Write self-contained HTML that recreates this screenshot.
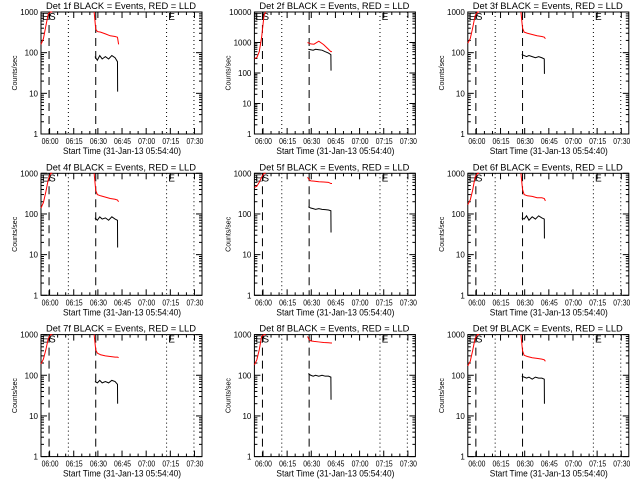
<!DOCTYPE html>
<html><head><meta charset="utf-8"><style>
html,body{margin:0;padding:0;background:#fff}
svg{display:block;font-family:"Liberation Sans",sans-serif}
</style></head><body>
<svg id="chart" width="640" height="480" viewBox="0 0 640 480"></svg>
<script>
// time axis (minutes since 05:54:40)
const xTickLabels = ["06:00","06:15","06:30","06:45","07:00","07:15","07:30"];
const xTickMinutes = [5.33,20.33,35.33,50.33,65.33,80.33,95.33];
const dashedTimes = [5,34];
const dottedTimes = [17,78,95];
const panelTitles = ["Det 1f","Det 2f","Det 3f","Det 4f","Det 5f","Det 6f","Det 7f","Det 8f","Det 9f"];
const panelMaxDecade = [3,4,3,3,3,3,3,3,3];
// red (LLD) series: segment1 then segment2
const redT1 = [0,1.5,3,4.5,6,7];
const redV1 = [[160,220,450,900,1000,1000],[300,320,500,1500,8000,10000],[170,220,400,800,1000,1000],[140,190,350,700,1000,1000],[450,480,600,800,1000,1000],[170,220,380,800,1000,1000],[190,250,420,800,1000,1000],[180,240,420,900,1000,1000],[170,220,400,800,1000,1000]];
const redT2 = [33,34,35,37,40,43,46,47.5,48.2];
const redV2 = [[1000,380,330,320,290,260,250,240,160],[1000,950,900,880,1100,850,600,500,500],[1000,400,320,300,280,260,250,240,220],[1000,380,300,280,260,240,230,220,200],[800,700,650,640,620,610,600,560,560],[1000,400,300,280,270,250,250,240,210],[1000,420,350,320,300,290,280,280,270],[900,750,700,680,660,640,630,620,620],[1000,400,310,290,270,260,250,240,220]];
const blkT = [33.5,35,36.5,38,40,42,44,46,47.5,47.6];
const blkV = [[80,65,85,70,80,70,85,75,60,11],[600,580,560,600,580,560,500,450,400,120],[90,85,80,85,80,75,80,75,70,30],[80,70,85,75,80,70,85,75,70,15],[150,140,135,130,135,130,128,125,120,35],[80,75,90,70,85,75,90,80,75,25],[70,65,75,65,70,65,75,70,60,20],[110,100,95,100,95,100,95,95,90,25],[95,90,85,90,80,90,85,85,80,20]];

const svg = document.getElementById('chart');
const NS = 'http://www.w3.org/2000/svg';
function mk(tag, attrs, parent){const e=document.createElementNS(NS,tag);for(const k in attrs)e.setAttribute(k,attrs[k]);parent.appendChild(e);return e;}

panelTitles.forEach((title,i)=>{
  const c=i%3, r=Math.floor(i/3);
  const ox=c*213.4, oy=r*161.3;
  const L=ox+41, R=ox+202, T=oy+12, B=oy+134;
  const maxD=panelMaxDecade[i];
  const xs=t=>L+(R-L)*t/100;
  const ys=v=>B-(B-T)*Math.log10(Math.max(1,Math.min(v,Math.pow(10,maxD))))/maxD;
  const g=mk('g',{},svg);
  
  
  const tt=mk('text',{x:L+5,y:oy+9,'font-size':'9',textLength:'150',lengthAdjust:'spacingAndGlyphs'},g);
  tt.textContent=title+" BLACK = Events, RED = LLD";
  
  
  const box=mk('rect',{x:L,y:T,width:R-L,height:B-T,fill:'none',stroke:'#000','stroke-width':1},g);
  
  
  for(let d=0;d<=maxD;d++){
    const y=B-(B-T)*d/maxD;
    mk('line',{x1:L,x2:L+6,y1:y,y2:y,stroke:'#000'},g);
    mk('line',{x1:R,x2:R-6,y1:y,y2:y,stroke:'#000'},g);
    const lb=mk('text',{x:L-3,y:y+3,'text-anchor':'end','font-size':'8'},g);
    lb.textContent=String(Math.pow(10,d));
    
    
    if(d<maxD){for(let m=2;m<10;m++){const yy=B-(B-T)*(d+Math.log10(m))/maxD;
      mk('line',{x1:L,x2:L+3,y1:yy,y2:yy,stroke:'#000'},g);
      mk('line',{x1:R,x2:R-3,y1:yy,y2:yy,stroke:'#000'},g);}}
  }
  const yl=mk('text',{x:ox+14,y:(T+B)/2+3,'font-size':'7','text-anchor':'middle',transform:`rotate(-90 ${ox+14} ${(T+B)/2})`},g);
  yl.textContent="Counts/sec";
  
  
  xTickMinutes.forEach((t,k)=>{
    const x=xs(t);
    mk('line',{x1:x,x2:x,y1:B,y2:B-6,stroke:'#000'},g);
    mk('line',{x1:x,x2:x,y1:T,y2:T+6,stroke:'#000'},g);
    for(let m=1;m<3;m++){const xm=xs(t+5*m);if(xm<R){mk('line',{x1:xm,x2:xm,y1:B,y2:B-3,stroke:'#000'},g);mk('line',{x1:xm,x2:xm,y1:T,y2:T+3,stroke:'#000'},g);}}
    const lb=mk('text',{x:x-8,y:B+10,'font-size':'8',textLength:'17',lengthAdjust:'spacingAndGlyphs'},g);
    lb.textContent=xTickLabels[k];
    
    
  });
  const xl=mk('text',{x:L+22,y:B+20,'font-size':'9',textLength:'118',lengthAdjust:'spacingAndGlyphs'},g);
  xl.textContent="Start Time (31-Jan-13 05:54:40)";
  
  
  dashedTimes.forEach(t=>{const l=mk('line',{x1:xs(t),x2:xs(t),y1:T,y2:B,stroke:'#000','stroke-dasharray':'8,5'},g);
    });
  dottedTimes.forEach(t=>{const l=mk('line',{x1:xs(t),x2:xs(t),y1:T,y2:B,stroke:'#000','stroke-dasharray':'1,3'},g);
    });
  [["E",L+1],["S",L+8],["E",xs(79)]].forEach(([s,x])=>{const e=mk('text',{x:x,y:T+8,'font-size':'10'},g);e.textContent=s;
    });
  const path=(T_,V_,col,name)=>{const p=mk('polyline',{points:T_.map((t,k)=>xs(t)+','+ys(V_[k])).join(' '),fill:'none',stroke:col,'stroke-width':1},g);
    };
  path(redT1,redV1[i],'#f00','lld-series-pre');
  path(redT2,redV2[i],'#f00','lld-series-post');
  path(blkT,blkV[i],'#000','events-series');
});
</script>
</body></html>
